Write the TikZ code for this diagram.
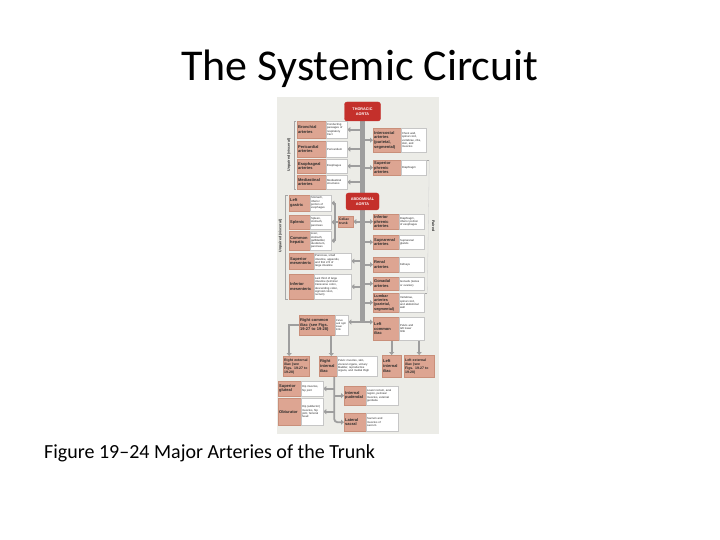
\documentclass[tikz,border=0pt]{standalone}
\usepackage{fontspec}
\setmainfont{Carlito}
\newfontfamily\figfont{Liberation Sans}
\usetikzlibrary{arrows.meta}
\definecolor{ared}{HTML}{C4302B}
\definecolor{salm}{HTML}{DDA592}
\definecolor{salmd}{HTML}{C98F7A}
\definecolor{panelbg}{HTML}{ECECE7}
\definecolor{lgray}{HTML}{9E9E9E}
\definecolor{txt}{HTML}{2A2A2A}
\pgfdeclarelayer{panel}
\pgfdeclarelayer{lines}
\pgfsetlayers{panel,lines,main}
\begin{document}
\begin{tikzpicture}[x=1pt,y=-1pt,
  sal/.style={rectangle, fill=salm, draw=salmd, line width=0.3pt, inner xsep=1pt, inner ysep=0.5pt,
    anchor=north west, align=left, text=txt, font=\figfont\bfseries\fontsize{4}{4.6}\selectfont},
  wht/.style={rectangle, fill=white, draw=gray!45, line width=0.3pt, inner xsep=1pt, inner ysep=0.5pt,
    anchor=north west, align=left, text=txt, font=\figfont\fontsize{2.8}{3.3}\selectfont},
  sz/.style 2 args={text width=#1, minimum height=#2},
  aorta/.style={rectangle, rounded corners=2.5pt, fill=ared, draw=ared, text=white, align=center,
    inner sep=0pt, font=\figfont\bfseries\fontsize{3.8}{4.4}\selectfont},
  trunk/.style={draw=lgray, line width=4.5pt},
  br/.style={draw=lgray, line width=1.8pt, -{Triangle[length=3pt,width=5pt]}},
  brl/.style={draw=lgray, line width=1.8pt},
  brk/.style={draw=gray!70, line width=0.4pt},
  brkf/.style={draw=gray!35, line width=0.3pt},
  brlab/.style={text=txt, inner sep=0pt, font=\figfont\bfseries\fontsize{3.6}{4}\selectfont}
]
\useasboundingbox (0,0) rectangle (720,540);
\begin{pgfonlayer}{panel}
\fill[white] (0,0) rectangle (720,540);
\fill[panelbg] (277,97) rectangle (439,434);
\end{pgfonlayer}

% title and caption
\node[anchor=base, inner sep=0pt, font=\fontsize{44}{44}\selectfont] (title) at (360,81) {The Systemic Circuit};
\node[anchor=base west, inner sep=0pt, font=\fontsize{20}{20}\selectfont] (cap) at (44,458) {Figure 19–24 Major Arteries of the Trunk};

% aortas
\node[aorta, minimum width=36pt, minimum height=19pt] (ta) at (362.5,111.5) {THORACIC\\AORTA};
\node[aorta, minimum width=33pt, minimum height=17pt] (aa) at (362.5,201.5) {ABDOMINAL\\AORTA};
\coordinate (split) at (362.5,322);

% thoracic, left
\node[sal, sz={27pt}{17pt}] (bro) at (297,121) {Bronchial\\arteries};
\node[wht, sz={19pt}{17pt}] (broW) at (326,121) {Conducting\\passages of\\respiratory\\tract};
\node[sal, sz={27pt}{16pt}] (per) at (297,141) {Pericardial\\arteries};
\node[wht, sz={19pt}{16pt}] (perW) at (326,141) {Pericardium};
\node[sal, sz={27pt}{14pt}] (eso) at (297,159) {Esophageal\\arteries};
\node[wht, sz={19pt}{14pt}] (esoW) at (326,159) {Esophagus};
\node[sal, sz={27pt}{14pt}] (med) at (297,175) {Mediastinal\\arteries};
\node[wht, sz={19pt}{14pt}] (medW) at (326,175) {Mediastinal\\structures};
% thoracic, right
\node[sal, sz={26pt}{24pt}] (ic) at (373,128) {Intercostal\\arteries\\(parietal,\\segmental)};
\node[wht, sz={23pt}{24pt}] (icW) at (401,128) {Chest wall,\\spinal cord,\\vertebrae, ribs,\\skin, and\\muscles};
\node[sal, sz={26pt}{15pt}] (sp) at (373,160) {Superior\\phrenic\\arteries};
\node[wht, sz={23pt}{15pt}] (spW) at (401,160) {Diaphragm};

% abdominal, left
\node[sal, sz={19pt}{16pt}] (lg) at (289,195) {Left\\gastric};
\node[wht, sz={19pt}{16pt}] (lgW) at (310,195) {Stomach,\\inferior\\portion of\\esophagus};
\node[sal, sz={19pt}{14pt}] (spl) at (289,215) {Splenic};
\node[wht, sz={19pt}{14pt}] (splW) at (310,215) {Spleen,\\stomach,\\pancreas};
\node[sal, sz={19pt}{19pt}] (ch) at (289,231) {Common\\hepatic};
\node[wht, sz={19pt}{19pt}] (chW) at (310,231) {Liver,\\stomach,\\gallbladder,\\duodenum,\\pancreas};
\node[sal, sz={13pt}{11pt}, font=\figfont\bfseries\fontsize{3.4}{3.9}\selectfont] (cel) at (338,216) {Celiac\\trunk};
\coordinate (celx) at (335,221.5);
\node[sal, sz={23pt}{16pt}] (sm) at (289,253) {Superior\\mesenteric};
\node[wht, sz={35pt}{16pt}] (smW) at (314,253) {Pancreas, small\\intestine, appendix,\\and first 2/3 of\\large intestine};
\node[sal, sz={23pt}{25pt}] (im) at (289,274) {Inferior\\mesenteric};
\node[wht, sz={35pt}{25pt}] (imW) at (314,274) {Last third of large\\intestine (terminal\\transverse colon,\\descending colon,\\sigmoid colon,\\rectum)};

% abdominal, right
\node[sal, sz={24pt}{15pt}] (ip) at (373,214) {Inferior\\phrenic\\arteries};
\node[wht, sz={23pt}{15pt}] (ipW) at (399,214) {Diaphragm,\\inferior portion\\of esophagus};
\node[sal, sz={24pt}{14pt}] (sr) at (373,235) {Suprarenal\\arteries};
\node[wht, sz={23pt}{14pt}] (srW) at (399,235) {Suprarenal\\glands};
\node[sal, sz={24pt}{15pt}] (ren) at (373,257) {Renal\\arteries};
\node[wht, sz={23pt}{15pt}] (renW) at (399,257) {Kidneys};
\node[sal, sz={24pt}{13pt}] (gon) at (373,277) {Gonadal\\arteries};
\node[wht, sz={23pt}{13pt}] (gonW) at (399,277) {Gonads (testes\\or ovaries)};
\node[sal, sz={24pt}{19pt}, font=\figfont\bfseries\fontsize{3.8}{4.3}\selectfont] (lum) at (373,293) {Lumbar\\arteries\\(parietal,\\segmental)};
\node[wht, sz={23pt}{19pt}] (lumW) at (399,293) {Vertebrae,\\spinal cord,\\and abdominal\\wall};

% iliacs
\node[sal, sz={34pt}{20pt}] (rci) at (299,315) {Right common\\iliac (see Figs.\\19-27 to 19-28)};
\node[wht, sz={11pt}{20pt}, font=\figfont\fontsize{2.5}{3}\selectfont] (rciW) at (335,315) {Pelvis\\and right\\lower\\limb};
\node[sal, sz={24pt}{23pt}] (lci) at (373,317) {Left\\common\\iliac};
\node[wht, sz={23pt}{23pt}] (lciW) at (399,317) {Pelvis and\\left lower\\limb};
\node[sal, sz={24pt}{20pt}, font=\figfont\bfseries\fontsize{3.5}{4}\selectfont] (rei) at (283,356) {Right external\\iliac (see\\Figs. 19-27 to\\19-28)};
\node[sal, sz={16pt}{20pt}] (rii) at (319,356) {Right\\internal\\iliac};
\node[wht, sz={38pt}{20pt}] (riiW) at (337,356) {Pelvic muscles, skin,\\visceral organs, urinary\\bladder, reproductive\\organs, and medial thigh};
\node[sal, sz={17pt}{22pt}] (lii) at (382,355) {Left\\internal\\iliac};
\node[sal, sz={28pt}{22pt}, font=\figfont\bfseries\fontsize{3.5}{4}\selectfont] (lei) at (404,355) {Left external\\iliac (see\\Figs. 19-27 to\\19-28)};
\node[sal, sz={21pt}{15pt}] (sg) at (278,381) {Superior\\gluteal};
\node[wht, sz={20pt}{15pt}] (sgW) at (301,381) {Hip muscles,\\hip joint};
\node[sal, sz={21pt}{27pt}] (ob) at (278,398) {Obturator};
\node[wht, sz={20pt}{27pt}] (obW) at (301,398) {Hip (adductor)\\muscles, hip\\joint, femoral\\head};
\node[sal, sz={20pt}{19pt}] (ipu) at (344,386) {Internal\\pudendal};
\node[wht, sz={30pt}{19pt}] (ipuW) at (366,386) {Lower rectum, anal\\region, perineal\\muscles, external\\genitalia};
\node[sal, sz={20pt}{18pt}] (ls) at (344,413) {Lateral\\sacral};
\node[wht, sz={30pt}{18pt}] (lsW) at (366,413) {Sacrum and\\muscles of\\sacrum};
\coordinate (rcx) at ([xshift=-4pt]rci.south east);
\coordinate (rbx) at ([xshift=-3pt]rii.south east);

% bracket labels
\node[brlab, rotate=90] (lb1) at (289,155) {Unpaired (visceral)};
\node[brlab, rotate=90] (lb2) at (280.5,236) {Unpaired (visceral)};
\node[brlab, rotate=-90] (lb3) at (433.5,226) {Paired};

\begin{pgfonlayer}{lines}
\draw[trunk] (ta.south) -- (split);
% thoracic
\foreach \n in {broW,perW,esoW,medW} \draw[br] (\n.east -| ta.south) -- (\n.east);
\foreach \n in {ic,sp} \draw[br] (\n.west -| ta.south) -- (\n.west);
% celiac
\draw[br] (cel.east -| ta.south) -- (cel.east);
\draw[brl] (cel.west) -- (cel.west -| celx);
\draw[brl] (lgW.east -| celx) -- (chW.east -| celx);
\foreach \n in {lgW,splW,chW} \draw[br] (\n.east -| celx) -- (\n.east);
\foreach \n in {smW,imW} \draw[br] (\n.east -| ta.south) -- (\n.east);
\foreach \n in {ip,sr,ren,gon,lum} \draw[br] (\n.west -| ta.south) -- (\n.west);
% iliacs
\draw[br] (split) -- (split -| rciW.east);
\draw[br] (split) -- (split -| lci.west);
\draw[br] (rci.west) -| ([xshift=-7pt]rei.north);
\draw[br] (rcx) -- (rcx |- rii.north);
\draw[br] (lci.south -| lii.north) -- (lii.north);
\draw[br] (lciW.south -| lei.north) -- (lei.north);
\draw[br, rounded corners=3pt] (rbx) |- (ls.west);
\draw[br] (ipu.west -| rbx) -- (ipu.west);
\draw[br] (sgW.east -| rbx) -- (sgW.east);
\draw[br] (obW.east -| rbx) -- (obW.east);
% brackets
\draw[brk] ([xshift=-1pt]bro.north west) -- ([xshift=-2.5pt]bro.north west) -- ([xshift=-2.5pt]med.south west) -- ([xshift=-1pt]med.south west);
\draw[brk] ([xshift=-1pt]lg.north west) -- ([xshift=-4pt]lg.north west) -- ([xshift=-4pt]im.south west) -- ([xshift=-1pt]im.south west);
\draw[brk] ([xshift=0.5pt]spW.north east) -- ([xshift=3pt]spW.north east);
\draw[brk] ([xshift=0.5pt]gonW.south east |- lum.north) -- ([xshift=3pt]gonW.south east |- lum.north);
\draw[brkf] ([xshift=3pt]spW.north east) -- ([xshift=3pt]gonW.south east |- lum.north);
\end{pgfonlayer}
\end{tikzpicture}
\end{document}
